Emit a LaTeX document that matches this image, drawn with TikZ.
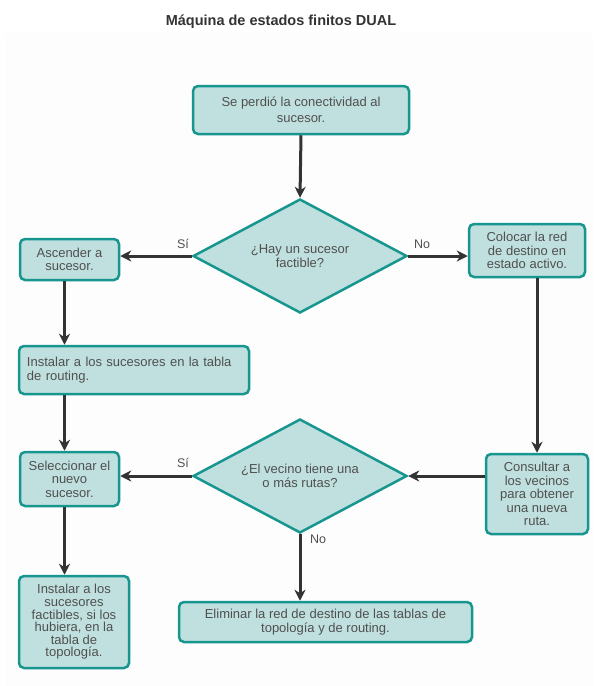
\documentclass[tikz,border=0pt]{standalone}
\usepackage{fontspec}
\setmainfont{Liberation Sans}
\usepackage{tikz}
\usetikzlibrary{shapes.geometric, arrows.meta}

\definecolor{boxfill}{HTML}{BFE0DE}
\definecolor{boxline}{HTML}{17968F}
\definecolor{txtgray}{HTML}{505050}
\definecolor{arrowgray}{HTML}{333333}

\begin{document}
\begin{tikzpicture}[x=1pt, y=-1pt, font=\fontsize{13}{13.5}\selectfont]
        % Setup the style for the boxes
        \tikzset{box style/.style={draw=boxline,
                                   fill=boxfill,
                                   line width=2.5pt,
                                   rounded corners=5pt,
                                   text=txtgray,
                                   align=center,
                                   inner sep=0pt}}
        \tikzset{choice style/.style={diamond,
                                   aspect=1.87,
                                   draw=boxline,
                                   fill=boxfill,
                                   line width=2.5pt,
                                   text=txtgray,
                                   align=center,
                                   inner sep=0pt,
                                   minimum width=214pt,
                                   minimum height=114pt}}
        \tikzset{arrow style/.style={draw=arrowgray,
                                   line width=3pt,
                                   -{Stealth[length=11pt, width=11pt, inset=3.5pt]}}}
        \tikzset{label style/.style={text=txtgray,
                                   font=\fontsize{12.5}{13}\selectfont}}

        \useasboundingbox (0,0) rectangle (597,686);
        \fill[gray!1.5] (5,33) rectangle (593,686);

        % Draw the title
        \node[font=\bfseries\fontsize{14.5}{17}\selectfont, text=black!80] (title) at (281,22) {Máquina de estados finitos DUAL};

        % Draw the states
        \node[box style, minimum width=216pt, minimum height=48pt, font=\fontsize{13}{16}\selectfont] at (301,110) (lost) {Se perdió la conectividad al\\sucesor.};
        \node[choice style] at (300,256) (feasible) {¿Hay un sucesor\\factible?};
        \node[box style, minimum width=99pt, minimum height=41pt] at (69.5,259.5) (promote) {Ascender a\\sucesor.};
        \node[box style, minimum width=116pt, minimum height=53pt] at (527,250.5) (active) {Colocar la red\\de destino en\\estado activo.};
        \node[box style, minimum width=230pt, minimum height=48pt, text width=214pt, align=left] at (134,370) (install) {Instalar a los sucesores en la tabla\\de routing.};
        \node[box style, minimum width=99pt, minimum height=54pt] at (69.5,479) (select) {Seleccionar el\\nuevo\\sucesor.};
        \node[choice style] at (300,476) (routes) {¿El vecino tiene una\\o más rutas?};
        \node[box style, minimum width=102pt, minimum height=80pt] at (537,494) (query) {Consultar a\\los vecinos\\para obtener\\una nueva\\ruta.};
        \node[box style, minimum width=293pt, minimum height=40pt] at (325.5,622) (remove) {Eliminar la red de destino de las tablas de\\topología y de routing.};
        \node[box style, minimum width=110pt, minimum height=92pt, font=\fontsize{13}{12.6}\selectfont] at (74,622) (feasinst) {Instalar a los\\sucesores\\factibles, si los\\hubiera, en la\\tabla de\\topología.};

        % Draw the labels
        \node[label style] at (183,244) (yes1) {Sí};
        \node[label style] at (422,244) (no1) {No};
        \node[label style] at (183,463) (yes2) {Sí};
        \node[label style] at (318,539) (no2) {No};

        % Connect the states with arrows
        \path[every edge/.style={arrow style}]
              (lost.south)                    edge (feasible.north)
              (feasible.west)                 edge (feasible.west -| promote.east)
              (feasible.east)                 edge (feasible.east -| active.west)
              ([xshift=-5pt]promote.south)    edge ([xshift=-5pt]promote.south |- install.north)
              ([xshift=-5pt]select.north |- install.south) edge ([xshift=-5pt]select.north)
              (query.north |- active.south)   edge (query.north)
              (query.west |- routes.east)     edge (routes.east)
              (routes.west)                   edge (routes.west -| select.east)
              (routes.south)                  edge (routes.south |- remove.north)
              ([xshift=-5pt]select.south)     edge ([xshift=-5pt]select.south |- feasinst.north);
\end{tikzpicture}
\end{document}
